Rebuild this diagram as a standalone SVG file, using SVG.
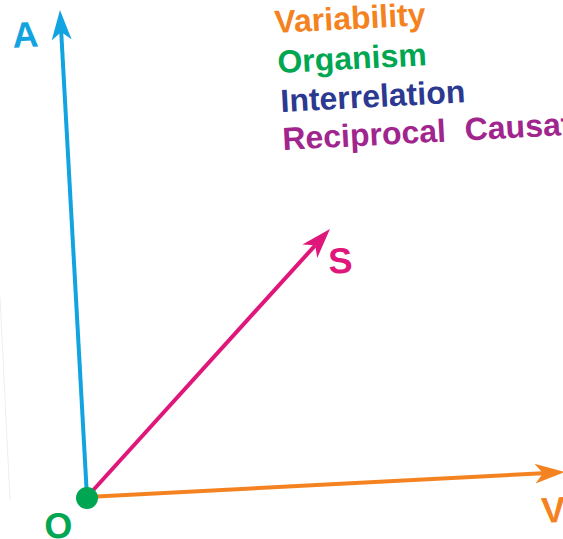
<svg xmlns="http://www.w3.org/2000/svg" width="563" height="539" viewBox="0 0 563 539">
<style>
.lbl{font-family:"Liberation Sans",Arial,sans-serif;font-weight:bold}
.ax{font-size:36px}
.tx{font-size:32px}
.axis{fill:none;stroke-width:4;stroke-linecap:butt}
</style>
<defs>
<marker id="hA" markerUnits="userSpaceOnUse" markerWidth="32" markerHeight="24" viewBox="0 -12 32 24" refX="8" refY="0" orient="auto"><path d="M30,0 L0,-10 L8,0 L0,10 Z" fill="#12A4E0"/></marker>
<marker id="hV" markerUnits="userSpaceOnUse" markerWidth="32" markerHeight="24" viewBox="0 -12 32 24" refX="8" refY="0" orient="auto"><path d="M30,0 L0,-10 L8,0 L0,10 Z" fill="#F58220"/></marker>
<marker id="hS" markerUnits="userSpaceOnUse" markerWidth="32" markerHeight="24" viewBox="0 -12 32 24" refX="8" refY="0" orient="auto"><path d="M30,0 L0,-10 L8,0 L0,10 Z" fill="#E0177A"/></marker>
</defs>
<rect width="563" height="539" fill="#fff"/>
<line x1="0" y1="297" x2="10" y2="500" stroke="#eeeeee" stroke-width="1"/>
<g id="connectors">
<path id="axisA" class="axis" d="M87,497 L61.2,32" stroke="#12A4E0" marker-end="url(#hA)"/>
<path id="axisV" class="axis" d="M87,497 L543,473.2" stroke="#F58220" marker-end="url(#hV)"/>
<path id="axisS" class="axis" d="M87,497 L315.2,245.3" stroke="#E0177A" marker-end="url(#hS)"/>
</g>
<g id="origin">
<circle cx="87" cy="498" r="11" fill="#00A651"/>
<text class="lbl ax" x="59" y="538" text-anchor="middle" fill="#00A651" transform="rotate(-3 59 538)">O</text>
</g>
<g id="labelA"><text class="lbl ax" x="26" y="47" text-anchor="middle" fill="#12A4E0" transform="rotate(-3 26 47)">A</text></g>
<g id="labelS"><text class="lbl ax" x="341" y="273" text-anchor="middle" fill="#E0177A" transform="rotate(-3 341 273)">S</text></g>
<g id="labelV"><text class="lbl ax" x="542" y="523" fill="#F58220" transform="rotate(-3 542 523)">V</text></g>
<g id="legend">
<text class="lbl tx" x="275" y="33" fill="#F58220" transform="rotate(-3 275 33)">Variability</text>
<text class="lbl tx" x="278" y="73" fill="#00A651" transform="rotate(-3 278 73)">Organism</text>
<text class="lbl tx" x="281" y="112" fill="#2B3990" transform="rotate(-3 281 112)">Interrelation</text>
<text class="lbl tx" x="283" y="150" fill="#A0268E" word-spacing="10" transform="rotate(-3 283 150)">Reciprocal Causation</text>
</g>
</svg>
